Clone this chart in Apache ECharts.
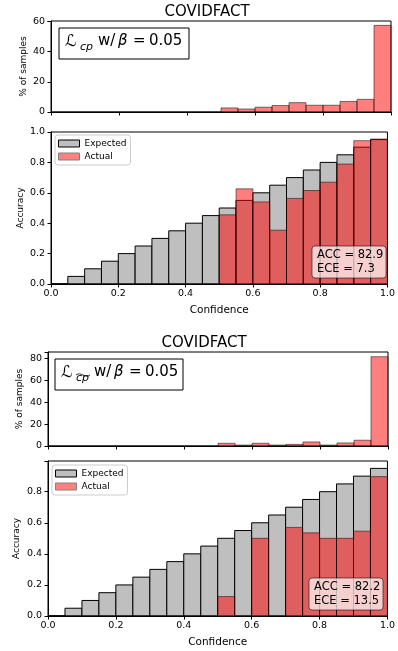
<!DOCTYPE html>
<html>
<head>
<meta charset="utf-8">
<script src="https://cdn.jsdelivr.net/npm/echarts@6/dist/echarts.min.js"></script>
<style>
  html, body { margin: 0; width: 100%; height: 100%; background: #fff; }
  #main { width: 398px; height: 651px; }
</style>
</head>
<body>
<div id="main"></div>
<script>
// bin edges of the confidence histogram
var binEdges = [0.00, 0.05, 0.10, 0.15, 0.20, 0.25, 0.30, 0.35, 0.40, 0.45, 0.50,
                0.55, 0.60, 0.65, 0.70, 0.75, 0.80, 0.85, 0.90, 0.95, 1.00];
var expected = [0.00, 0.05, 0.10, 0.15, 0.20, 0.25, 0.30, 0.35, 0.40, 0.45,
                0.50, 0.55, 0.60, 0.65, 0.70, 0.75, 0.80, 0.85, 0.90, 0.95];

// top figure: L_cp
var samples1 = [0, 0, 0, 0, 0, 0, 0, 0, 0, 0,
                2.7, 2.0, 3.2, 4.3, 6.2, 4.5, 4.5, 7.0, 8.4, 57.5];
var actual1 = [0, 0, 0, 0, 0, 0, 0, 0, 0, 0,
               0.455, 0.626, 0.540, 0.354, 0.563, 0.615, 0.670, 0.789, 0.943, 0.954];
// bottom figure: L_cp~
var samples2 = [0, 0, 0, 0, 0, 0, 0, 0, 0, 0,
                2.5, 0.9, 2.5, 0.9, 1.5, 3.7, 0.9, 2.8, 5.3, 81.7];
var actual2 = [0, 0, 0, 0, 0, 0, 0, 0, 0, 0,
               0.125, 0, 0.500, 0, 0.570, 0.535, 0.500, 0.500, 0.546, 0.897];

var stats1 = ['ACC = 82.9', 'ECE = 7.3'];
var stats2 = ['ACC = 82.2', 'ECE = 13.5'];

var FONT = 'DejaVu Sans';

function toBins(values) {
  var out = [];
  for (var i = 0; i < values.length; i++) {
    out.push([binEdges[i], binEdges[i + 1], values[i]]);
  }
  return out;
}

function barRenderer(fill, stroke) {
  return function (params, api) {
    var p0 = api.coord([api.value(0), 0]);
    var p1 = api.coord([api.value(1), api.value(2)]);
    return {
      type: 'rect',
      shape: { x: p0[0], y: p1[1], width: p1[0] - p0[0], height: p0[1] - p1[1] },
      style: { fill: fill, stroke: stroke, lineWidth: 1 }
    };
  };
}

function xAxis(gridIndex, showLabels, name) {
  return {
    type: 'value', gridIndex: gridIndex, min: 0, max: 1, interval: 0.2,
    name: name || '', nameLocation: 'middle', nameGap: 21, nameMoveOverlap: false,
    nameTextStyle: { fontFamily: FONT, fontSize: 10.5, color: '#000' },
    axisLine: { show: true, onZero: false, lineStyle: { color: '#000', width: 1 } },
    axisTick: { show: true, length: 3.5, lineStyle: { color: '#000', width: 1 } },
    axisLabel: {
      show: showLabels, margin: 5, fontFamily: FONT, fontSize: 9.5, color: '#000',
      formatter: function (v) { return v.toFixed(1); }
    },
    splitLine: { show: false }
  };
}

function yAxis(gridIndex, max, interval, digits, name, nameGap) {
  return {
    type: 'value', gridIndex: gridIndex, min: 0, max: max, interval: interval,
    name: name, nameLocation: 'middle', nameGap: nameGap, nameMoveOverlap: false,
    nameTextStyle: { fontFamily: FONT, fontSize: 9, color: '#000' },
    axisLine: { show: true, lineStyle: { color: '#000', width: 1 } },
    axisTick: { show: true, length: 3.5, lineStyle: { color: '#000', width: 1 } },
    axisLabel: {
      margin: 6, fontFamily: FONT, fontSize: 9.5, color: '#000',
      formatter: function (v) {
        var k = v / interval;
        if (Math.abs(k - Math.round(k)) > 1e-6) return '';
        return v.toFixed(digits);
      }
    },
    splitLine: { show: false }
  };
}

function legendFor(left, top) {
  return {
    left: left, top: top, orient: 'vertical', icon: 'rect',
    itemWidth: 21, itemHeight: 7, itemGap: 4, padding: [4, 4, 4, 3],
    backgroundColor: 'rgba(255,255,255,0.8)', borderColor: '#cccccc', borderWidth: 1, borderRadius: 3,
    textStyle: { fontFamily: FONT, fontSize: 9, color: '#000', lineHeight: 9 },
    selectedMode: false,
    data: [
      { name: 'Expected', itemStyle: { color: '#bfbfbf', borderColor: '#000', borderWidth: 1 } },
      { name: 'Actual', itemStyle: { color: '#ff8080', borderColor: '#808080', borderWidth: 1 } }
    ]
  };
}

function statsBox(x, y, lines) {
  return [
    { type: 'rect', shape: { x: x, y: y, width: 74, height: 32, r: 3 }, z: 100,
      style: { fill: 'rgba(255,255,255,0.7)', stroke: 'rgba(0,0,0,0.55)', lineWidth: 1 } },
    { type: 'text', x: x + 5, y: y + 9, z: 101,
      style: { text: lines[0], fontFamily: FONT, fontSize: 11.5, fill: '#000', verticalAlign: 'middle' } },
    { type: 'text', x: x + 5, y: y + 23, z: 101,
      style: { text: lines[1], fontFamily: FONT, fontSize: 11.5, fill: '#000', verticalAlign: 'middle' } }
  ];
}

function lossBox(x, y, w, h, tilde) {
  var base = y + 21;
  var els = [
    { type: 'rect', shape: { x: x, y: y, width: w, height: h }, z: 100,
      style: { fill: '#fff', stroke: '#000', lineWidth: 1 } },
    { type: 'text', x: x + 6, y: base + 1, z: 101,
      style: { text: 'ℒ', fontFamily: FONT, fontSize: 16, fontStyle: 'italic', fill: '#000', verticalAlign: 'bottom' } },
    { type: 'text', x: x + 21, y: base + 4, z: 101,
      style: { text: 'cp', fontFamily: FONT, fontSize: 11, fontStyle: 'italic', fill: '#000', verticalAlign: 'bottom' } },
    { type: 'text', x: x + 39, y: base, z: 101,
      style: { text: 'w/', fontFamily: FONT, fontSize: 15, fill: '#000', verticalAlign: 'bottom' } },
    { type: 'text', x: x + 59, y: base, z: 101,
      style: { text: 'β', fontFamily: FONT, fontSize: 15, fontStyle: 'italic', fill: '#000', verticalAlign: 'bottom' } },
    { type: 'text', x: x + 74, y: base, z: 101,
      style: { text: '=', fontFamily: FONT, fontSize: 15, fill: '#000', verticalAlign: 'bottom' } },
    { type: 'text', x: x + 90, y: base, z: 101,
      style: { text: '0.05', fontFamily: FONT, fontSize: 15, fill: '#000', verticalAlign: 'bottom' } }
  ];
  if (tilde) {
    els.push({ type: 'bezierCurve', z: 101,
      shape: { x1: x + 21, y1: base - 5, x2: x + 35, y2: base - 5,
               cpx1: x + 26, cpy1: base - 9, cpx2: x + 30, cpy2: base - 1 },
      style: { stroke: '#000', lineWidth: 0.8, fill: null } });
  }
  return els;
}

var chart = echarts.init(document.getElementById('main'), null, { renderer: 'canvas' });

var option = {
  animation: false,
  backgroundColor: '#fff',
  grid: [
    { left: 51, top: 21, width: 340, height: 91, show: true, borderColor: '#000', borderWidth: 1 },
    { left: 51, top: 132, width: 340, height: 152, show: true, borderColor: '#000', borderWidth: 1 },
    { left: 48, top: 352, width: 340, height: 94, show: true, borderColor: '#000', borderWidth: 1 },
    { left: 48, top: 461, width: 340, height: 155, show: true, borderColor: '#000', borderWidth: 1 }
  ],
  xAxis: [
    xAxis(0, false),
    xAxis(1, true, 'Confidence'),
    xAxis(2, false),
    xAxis(3, true, 'Confidence')
  ],
  yAxis: [
    yAxis(0, 60.4, 20, 0, '% of samples', 23),
    yAxis(1, 1.0, 0.2, 1, 'Accuracy', 26),
    yAxis(2, 86, 20, 0, '% of samples', 24),
    yAxis(3, 0.9975, 0.2, 1, 'Accuracy', 27)
  ],
  legend: [legendFor(55, 135), legendFor(52, 465)],
  series: [
    { type: 'custom', name: 'samples1', xAxisIndex: 0, yAxisIndex: 0,
      renderItem: barRenderer('rgba(255,0,0,0.5)', 'rgba(0,0,0,0.5)'),
      encode: { x: [0, 1], y: 2 }, data: toBins(samples1) },
    { type: 'custom', name: 'Expected', xAxisIndex: 1, yAxisIndex: 1,
      itemStyle: { color: '#bfbfbf' },
      renderItem: barRenderer('#bfbfbf', '#000'),
      encode: { x: [0, 1], y: 2 }, data: toBins(expected) },
    { type: 'custom', name: 'Actual', xAxisIndex: 1, yAxisIndex: 1,
      itemStyle: { color: '#ff8080' },
      renderItem: barRenderer('rgba(255,0,0,0.5)', 'rgba(0,0,0,0.5)'),
      encode: { x: [0, 1], y: 2 }, data: toBins(actual1) },
    { type: 'custom', name: 'samples2', xAxisIndex: 2, yAxisIndex: 2,
      renderItem: barRenderer('rgba(255,0,0,0.5)', 'rgba(0,0,0,0.5)'),
      encode: { x: [0, 1], y: 2 }, data: toBins(samples2) },
    { type: 'custom', name: 'Expected', xAxisIndex: 3, yAxisIndex: 3,
      itemStyle: { color: '#bfbfbf' },
      renderItem: barRenderer('#bfbfbf', '#000'),
      encode: { x: [0, 1], y: 2 }, data: toBins(expected) },
    { type: 'custom', name: 'Actual', xAxisIndex: 3, yAxisIndex: 3,
      itemStyle: { color: '#ff8080' },
      renderItem: barRenderer('rgba(255,0,0,0.5)', 'rgba(0,0,0,0.5)'),
      encode: { x: [0, 1], y: 2 }, data: toBins(actual2) }
  ],
  graphic: [
    { type: 'text', x: 207, y: 12, z: 100,
      style: { text: 'COVIDFACT', fontFamily: FONT, fontSize: 15, fill: '#000', align: 'center', verticalAlign: 'middle' } },
    { type: 'text', x: 204, y: 343, z: 100,
      style: { text: 'COVIDFACT', fontFamily: FONT, fontSize: 15, fill: '#000', align: 'center', verticalAlign: 'middle' } }
  ].concat(lossBox(59, 28, 130, 31, false))
   .concat(lossBox(55, 359, 128, 31, true))
   .concat(statsBox(312, 246, stats1))
   .concat(statsBox(309, 578, stats2))
};

chart.setOption(option);
window.onresize = chart.resize;
</script>
</body>
</html>
